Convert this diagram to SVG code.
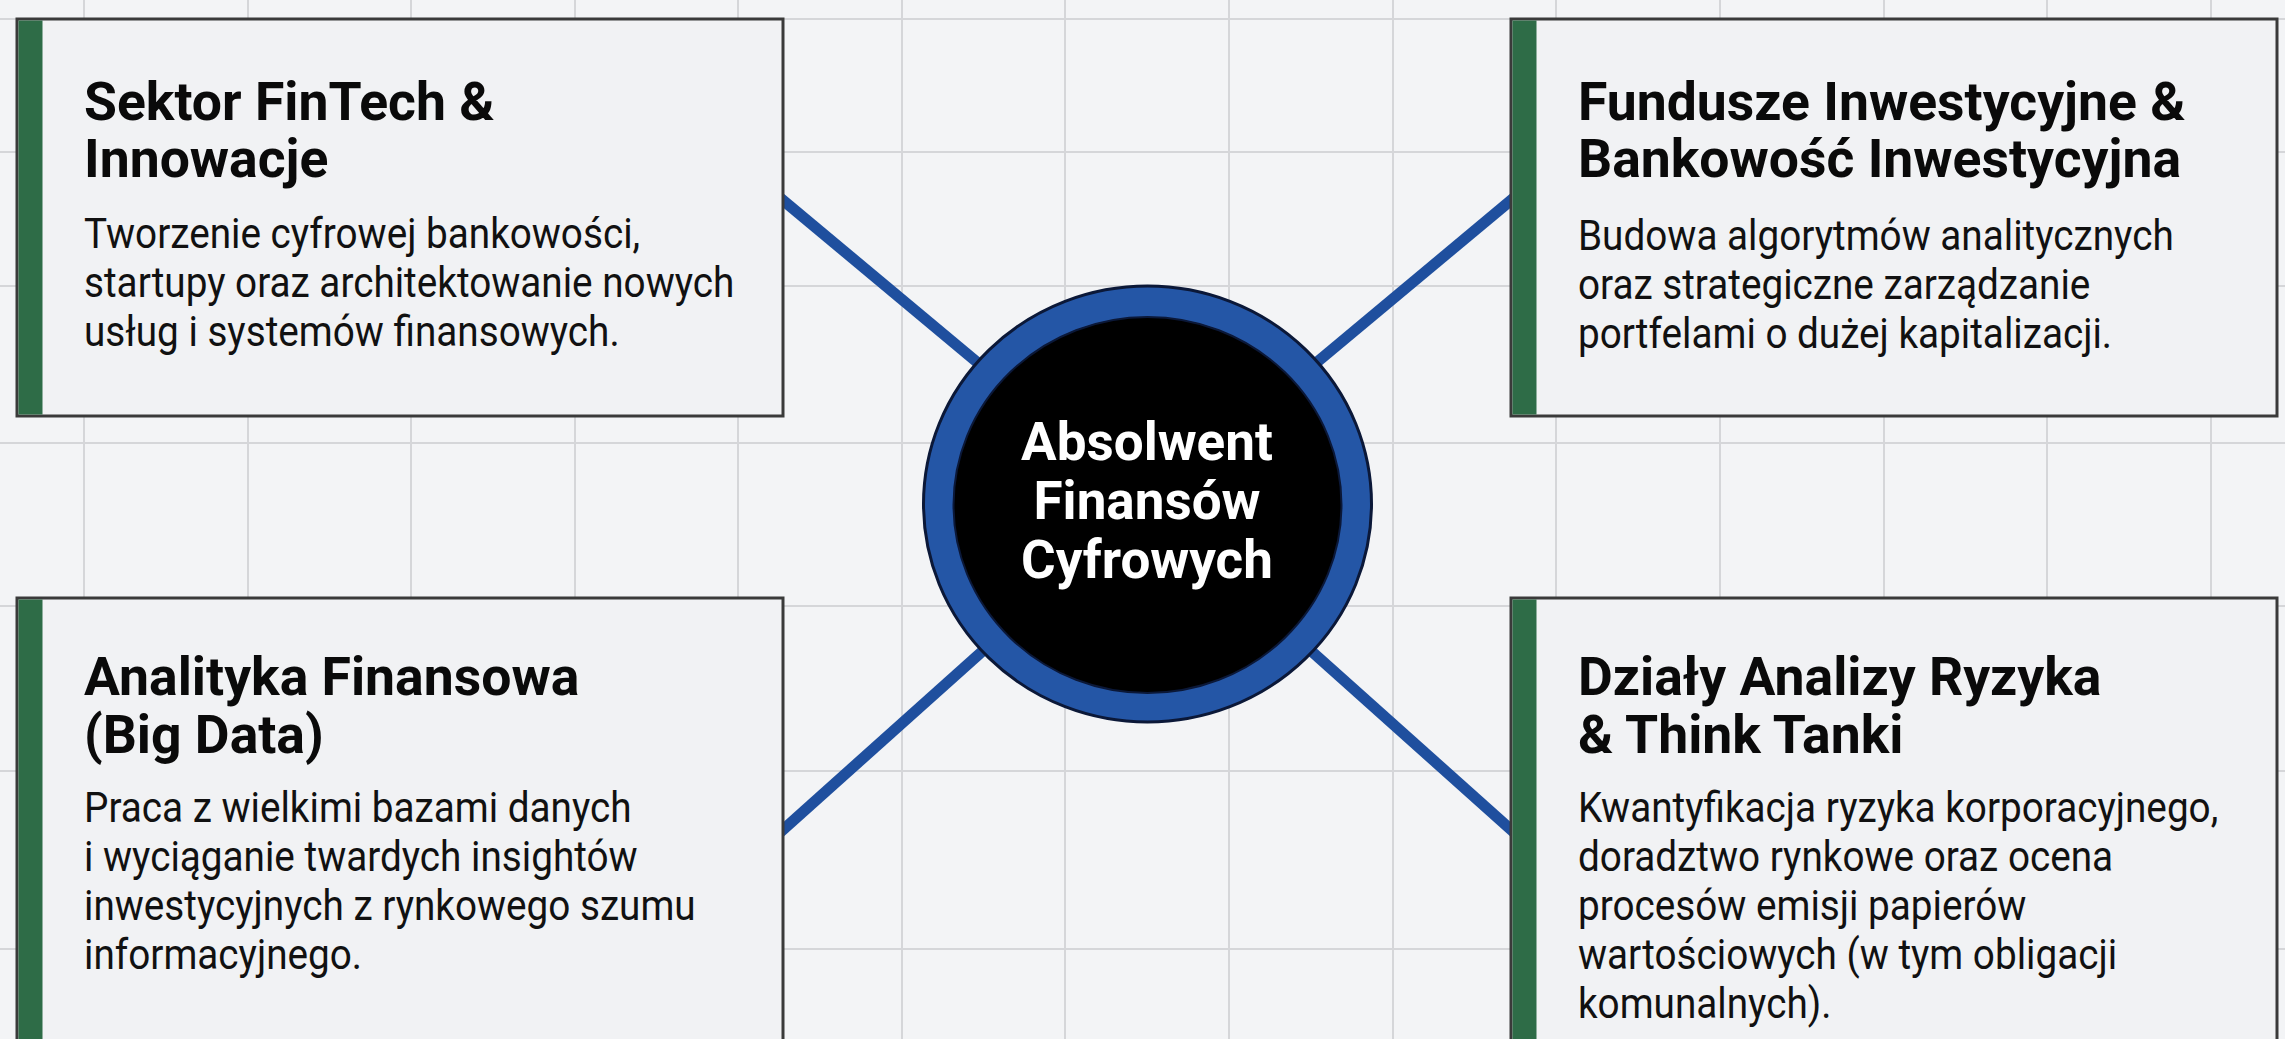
<svg xmlns="http://www.w3.org/2000/svg" width="2285" height="1039" viewBox="0 0 2285 1039">
<defs>
<style>
.bg{fill:#f3f4f6}
.grid line{stroke:#d5d6d9;stroke-width:2}
.conn line{stroke:#1f4f9e;stroke-width:11;stroke-linecap:butt}
.box{fill:#f1f2f4;stroke:#3a3a3a;stroke-width:3}
.bar{fill:#2e6c47}
.title{font-family:Roboto,"Liberation Sans",sans-serif;font-weight:700;font-size:53.5px;fill:#0a0a0a}
.body{font-family:Roboto,"Liberation Sans",sans-serif;font-weight:400;font-size:43px;fill:#111111}
.ctext{font-family:Roboto,"Liberation Sans",sans-serif;font-weight:700;font-size:53px;fill:#ffffff;text-anchor:middle}
</style>
</defs>
<rect class="bg" x="0" y="0" width="2285" height="1039"/>
<g class="grid">
<line x1="84" y1="0" x2="84" y2="1039"/>
<line x1="248" y1="0" x2="248" y2="1039"/>
<line x1="411" y1="0" x2="411" y2="1039"/>
<line x1="575" y1="0" x2="575" y2="1039"/>
<line x1="738" y1="0" x2="738" y2="1039"/>
<line x1="902" y1="0" x2="902" y2="1039"/>
<line x1="1065" y1="0" x2="1065" y2="1039"/>
<line x1="1229" y1="0" x2="1229" y2="1039"/>
<line x1="1393" y1="0" x2="1393" y2="1039"/>
<line x1="1556" y1="0" x2="1556" y2="1039"/>
<line x1="1720" y1="0" x2="1720" y2="1039"/>
<line x1="1884" y1="0" x2="1884" y2="1039"/>
<line x1="2047" y1="0" x2="2047" y2="1039"/>
<line x1="2211" y1="0" x2="2211" y2="1039"/>
<line x1="0" y1="19" x2="2285" y2="19"/>
<line x1="0" y1="152" x2="2285" y2="152"/>
<line x1="0" y1="286" x2="2285" y2="286"/>
<line x1="0" y1="443" x2="2285" y2="443"/>
<line x1="0" y1="606" x2="2285" y2="606"/>
<line x1="0" y1="771" x2="2285" y2="771"/>
<line x1="0" y1="949" x2="2285" y2="949"/>
</g>
<g id="connectors" class="conn">
<line x1="1147" y1="504" x2="700" y2="131"/>
<line x1="1147" y1="504" x2="1594" y2="131"/>
<line x1="1147" y1="504" x2="700" y2="904"/>
<line x1="1147" y1="504" x2="1594" y2="904"/>
</g>
<g id="node-fintech">
<rect class="box" x="17" y="19" width="766" height="397"/>
<rect class="bar" x="18.5" y="20.5" width="24" height="394"/>
<text class="title" x="84" y="120">Sektor FinTech &amp;</text>
<text class="title" x="84" y="177">Innowacje</text>
<g transform="translate(84 0) scale(0.9 1)">
<text class="body" x="0" y="248">Tworzenie cyfrowej bankowości,</text>
<text class="body" x="0" y="297">startupy oraz architektowanie nowych</text>
<text class="body" x="0" y="346">usług i systemów finansowych.</text>
</g>
</g>
<g id="node-fundusze">
<rect class="box" x="1511" y="19" width="766" height="397"/>
<rect class="bar" x="1512.5" y="20.5" width="24" height="394"/>
<text class="title" x="1578" y="120">Fundusze Inwestycyjne &amp;</text>
<text class="title" x="1578" y="177">Bankowość Inwestycyjna</text>
<g transform="translate(1578 0) scale(0.9 1)">
<text class="body" x="0" y="250">Budowa algorytmów analitycznych</text>
<text class="body" x="0" y="299">oraz strategiczne zarządzanie</text>
<text class="body" x="0" y="348">portfelami o dużej kapitalizacji.</text>
</g>
</g>
<g id="node-analityka">
<rect class="box" x="17" y="598" width="766" height="460"/>
<rect class="bar" x="18.5" y="599.5" width="24" height="457"/>
<text class="title" x="84" y="695">Analityka Finansowa</text>
<text class="title" x="84" y="753">(Big Data)</text>
<g transform="translate(84 0) scale(0.9 1)">
<text class="body" x="0" y="822">Praca z wielkimi bazami danych</text>
<text class="body" x="0" y="871">i wyciąganie twardych insightów</text>
<text class="body" x="0" y="920">inwestycyjnych z rynkowego szumu</text>
<text class="body" x="0" y="969">informacyjnego.</text>
</g>
</g>
<g id="node-ryzyko">
<rect class="box" x="1511" y="598" width="766" height="460"/>
<rect class="bar" x="1512.5" y="599.5" width="24" height="457"/>
<text class="title" x="1578" y="695">Działy Analizy Ryzyka</text>
<text class="title" x="1578" y="753">&amp; Think Tanki</text>
<g transform="translate(1578 0) scale(0.9 1)">
<text class="body" x="0" y="822">Kwantyfikacja ryzyka korporacyjnego,</text>
<text class="body" x="0" y="871">doradztwo rynkowe oraz ocena</text>
<text class="body" x="0" y="920">procesów emisji papierów</text>
<text class="body" x="0" y="969">wartościowych (w tym obligacji</text>
<text class="body" x="0" y="1018">komunalnych).</text>
</g>
</g>
<g id="node-center">
<ellipse cx="1147.5" cy="504" rx="224" ry="218" fill="#2456a6" stroke="#0b1838" stroke-width="3"/>
<ellipse cx="1147.5" cy="505" rx="194" ry="188" fill="#000000" stroke="#0b1838" stroke-width="2"/>
<text class="ctext" x="1147" y="460">Absolwent</text>
<text class="ctext" x="1147" y="519">Finansów</text>
<text class="ctext" x="1147" y="578">Cyfrowych</text>
</g>
</svg>
